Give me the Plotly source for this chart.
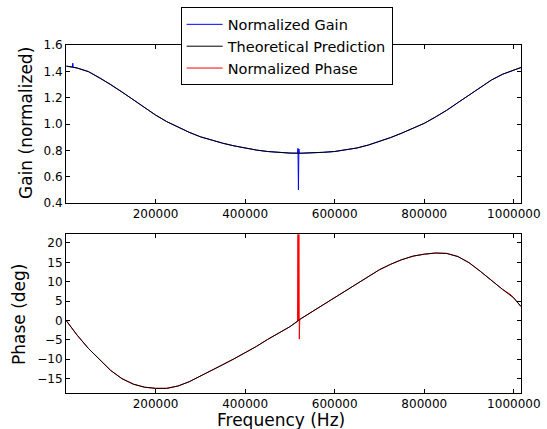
import plotly.graph_objects as go

# ---------------- data ----------------
freq_hz = [1000, 25000, 50000, 75000, 100000, 125000, 150000, 175000, 200000,
           225000, 250000, 275000, 300000, 325000, 350000, 375000, 400000,
           425000, 450000, 475000, 500000, 525000, 550000, 575000, 600000,
           625000, 650000, 675000, 700000, 725000, 750000, 775000, 800000,
           825000, 850000, 875000, 900000, 925000, 950000, 975000, 1000000,
           1016000]

gain_theory = [1.439, 1.425, 1.398, 1.352, 1.300, 1.243, 1.185, 1.125, 1.068,
               1.018, 0.976, 0.937, 0.903, 0.876, 0.854, 0.834, 0.816,
               0.802, 0.791, 0.784, 0.779, 0.778, 0.780, 0.785, 0.791,
               0.802, 0.818, 0.840, 0.866, 0.897, 0.931, 0.967, 1.005,
               1.053, 1.104, 1.162, 1.220, 1.279, 1.334, 1.378, 1.409,
               1.429]

phase_theory = [-0.1, -3.8, -7.2, -10.0, -12.9, -15.0, -16.4, -17.2, -17.5,
                -17.5, -16.9, -15.8, -14.4, -12.9, -11.4, -9.9, -8.4,
                -6.7, -4.9, -3.2, -1.6, 0.5, 2.3, 4.0, 5.8,
                7.7, 9.6, 11.4, 13.1, 14.5, 15.7, 16.6, 17.1,
                17.4, 17.3, 16.5, 14.9, 12.7, 10.3, 8.0, 5.8,
                3.6]

# measured gain (with glitches near 15 kHz and ~519 kHz)
gain_freq = [1000, 14500, 15000, 16000, 25000, 50000, 75000, 100000, 125000,
             150000, 175000, 200000, 225000, 250000, 275000, 300000, 325000,
             350000, 375000, 400000, 425000, 450000, 475000, 500000, 517000,
             518000, 519000, 520000, 521000, 525000, 550000, 575000, 600000,
             625000, 650000, 675000, 700000, 725000, 750000, 775000, 800000,
             825000, 850000, 875000, 900000, 925000, 950000, 975000, 1000000,
             1016000]
gain_meas = [1.439, 1.433, 1.462, 1.432, 1.425, 1.398, 1.352, 1.300, 1.243,
             1.185, 1.125, 1.068, 1.018, 0.976, 0.937, 0.903, 0.876,
             0.854, 0.834, 0.816, 0.802, 0.791, 0.784, 0.779, 0.778,
             0.815, 0.500, 0.810, 0.778, 0.778, 0.780, 0.785, 0.791,
             0.802, 0.818, 0.840, 0.866, 0.897, 0.931, 0.967, 1.005,
             1.053, 1.104, 1.162, 1.220, 1.279, 1.334, 1.378, 1.409,
             1.429]

# measured phase (with glitch near ~520 kHz)
phase_freq = [1000, 25000, 50000, 75000, 100000, 125000, 150000, 175000, 200000,
              225000, 250000, 275000, 300000, 325000, 350000, 375000, 400000,
              425000, 450000, 475000, 500000, 517000, 518000, 519000, 520000,
              521000, 522000, 525000, 550000, 575000, 600000, 625000, 650000,
              675000, 700000, 725000, 750000, 775000, 800000, 825000, 850000,
              875000, 900000, 925000, 950000, 975000, 994000, 1000000, 1016000]
phase_meas = [-0.1, -3.8, -7.2, -10.0, -12.9, -15.0, -16.4, -17.2, -17.5,
              -17.5, -16.9, -15.8, -14.4, -12.9, -11.4, -9.9, -8.4,
              -6.7, -4.9, -3.2, -1.6, -0.2, 30.0, 0.0, 30.0,
              -4.8, 0.3, 0.5, 2.3, 4.0, 5.8, 7.7, 9.6,
              11.4, 13.1, 14.5, 15.7, 16.6, 17.1, 17.4, 17.3,
              16.5, 14.9, 12.7, 10.3, 8.0, 6.6, 5.8, 3.6]

x_ticks = [200000, 400000, 600000, 800000, 1000000]
gain_ticks = [0.4, 0.6, 0.8, 1.0, 1.2, 1.4, 1.6]
phase_ticks = [-15, -10, -5, 0, 5, 10, 15, 20]

# ---------------- figure ----------------
FONT = "DejaVu Sans"
fig = go.Figure()
fig.add_trace(go.Scatter(x=gain_freq, y=gain_meas, mode="lines",
                         name="Normalized Gain",
                         line=dict(color="#0000ff", width=1),
                         xaxis="x", yaxis="y"))
fig.add_trace(go.Scatter(x=freq_hz, y=gain_theory, mode="lines",
                         name="Theoretical Prediction",
                         line=dict(color="#000000", width=1),
                         xaxis="x", yaxis="y"))
fig.add_trace(go.Scatter(x=phase_freq, y=phase_meas, mode="lines",
                         name="Normalized Phase",
                         line=dict(color="#ff0000", width=1),
                         xaxis="x2", yaxis="y2"))
fig.add_trace(go.Scatter(x=freq_hz, y=phase_theory, mode="lines",
                         name="Theoretical Prediction", showlegend=False,
                         line=dict(color="#000000", width=1),
                         xaxis="x2", yaxis="y2"))

axis_common = dict(showline=True, linecolor="black", linewidth=1,
                   mirror="allticks", ticks="inside", ticklen=4,
                   tickcolor="black", showgrid=False, zeroline=False,
                   automargin=False,
                   tickfont=dict(family=FONT, size=12, color="black"))

fig.update_layout(
    width=547, height=429,
    margin=dict(l=66, r=26, t=45, b=36, autoexpand=False),
    paper_bgcolor="white", plot_bgcolor="white",
    font=dict(family=FONT, color="black"),
    xaxis=dict(domain=[0, 1], anchor="y", range=[0, 1016000],
               tickvals=x_ticks, ticktext=[str(v) for v in x_ticks],
               **axis_common),
    yaxis=dict(domain=[0.546, 1], anchor="x", range=[0.4, 1.6],
               tickvals=gain_ticks, tickformat=".1f", **axis_common),
    xaxis2=dict(domain=[0, 1], anchor="y2", range=[0, 1016000],
                tickvals=x_ticks, ticktext=[str(v) for v in x_ticks],
                **axis_common),
    yaxis2=dict(domain=[0, 0.4557], anchor="x2", range=[-18.7, 22.2],
                tickvals=phase_ticks, **axis_common),
    legend=dict(x=0.252, y=1.108, xanchor="left", yanchor="top",
                bgcolor="white", bordercolor="black", borderwidth=1,
                font=dict(family=FONT, size=14.5, color="black"),
                tracegroupgap=0, itemwidth=36),
    showlegend=True,
    annotations=[
        dict(text="Gain (normalized)", xref="paper", yref="paper",
             x=-0.0879, y=0.776, xanchor="center", yanchor="middle",
             textangle=-90, showarrow=False,
             font=dict(family=FONT, size=17, color="black")),
        dict(text="Phase (deg)", xref="paper", yref="paper",
             x=-0.1033, y=0.227, xanchor="center", yanchor="middle",
             textangle=-90, showarrow=False,
             font=dict(family=FONT, size=17, color="black")),
        dict(text="Frequency (Hz)", xref="paper", yref="paper",
             x=0.4725, y=-0.0785, xanchor="center", yanchor="middle",
             showarrow=False,
             font=dict(family=FONT, size=17, color="black")),
    ],
)

fig.write_html("out.html")
